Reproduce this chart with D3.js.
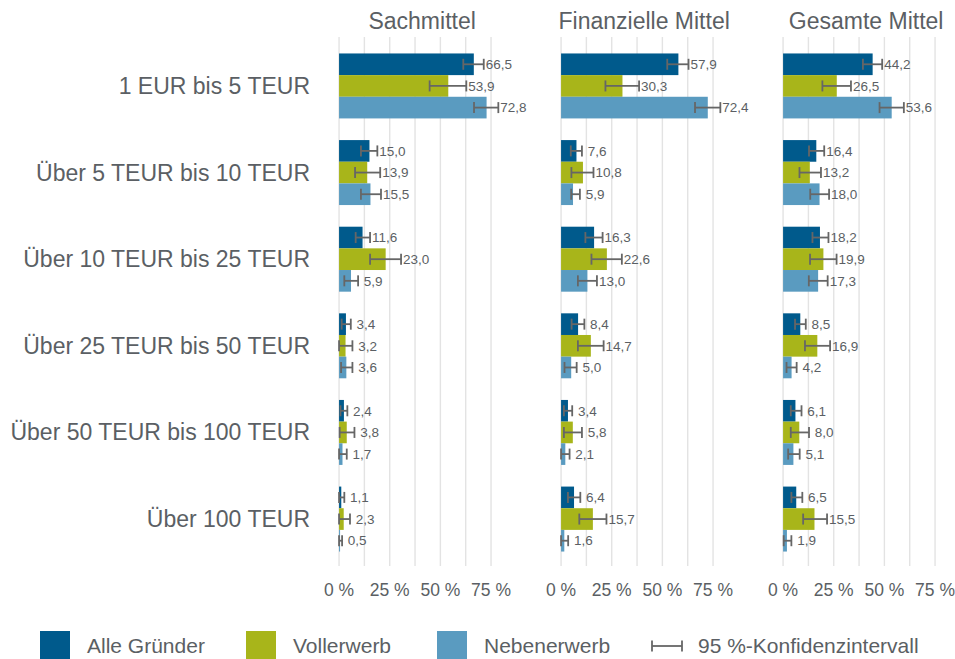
<!DOCTYPE html>
<html>
<head>
<meta charset="utf-8">
<script src="https://cdn.jsdelivr.net/npm/d3@7"></script>
<style>
  html, body { margin: 0; padding: 0; background: #fff; }
  svg { display: block; font-family: "Liberation Sans", Arial, sans-serif; }
</style>
</head>
<body>
<div id="chart"></div>
<script>
(function () {
"use strict";

// Categories, facets, series
var categories = [
  "1 EUR bis 5 TEUR",
  "Über 5 TEUR bis 10 TEUR",
  "Über 10 TEUR bis 25 TEUR",
  "Über 25 TEUR bis 50 TEUR",
  "Über 50 TEUR bis 100 TEUR",
  "Über 100 TEUR"
];
var facets = ["Sachmittel", "Finanzielle Mittel", "Gesamte Mittel"];
var series = ["Alle Gründer", "Vollerwerb", "Nebenerwerb"];
var xTicks = [0, 25, 50, 75];
var xGrid = [0, 12.5, 25, 37.5, 50, 62.5, 75];

// Shares (%) per facet and series, in category order
var sachAlle  = [66.5, 15.0, 11.6, 3.4, 2.4, 1.1];
var sachVoll  = [53.9, 13.9, 23.0, 3.2, 3.8, 2.3];
var sachNeben = [72.8, 15.5,  5.9, 3.6, 1.7, 0.5];
var finAlle   = [57.9,  7.6, 16.3,  8.4, 3.4,  6.4];
var finVoll   = [30.3, 10.8, 22.6, 14.7, 5.8, 15.7];
var finNeben  = [72.4,  5.9, 13.0,  5.0, 2.1,  1.6];
var gesAlle   = [44.2, 16.4, 18.2,  8.5, 6.1,  6.5];
var gesVoll   = [26.5, 13.2, 19.9, 16.9, 8.0, 15.5];
var gesNeben  = [53.6, 18.0, 17.3,  4.2, 5.1,  1.9];

// 95 % confidence intervals (lower / upper)
var sachAlleLo  = [61.3, 10.8,  8.2, 1.3, 0.7, 0.0];
var sachAlleHi  = [71.4, 18.9, 15.3, 5.8, 4.1, 2.6];
var sachVollLo  = [44.7,  7.9, 15.3, 0.0, 0.3, 0.0];
var sachVollHi  = [62.8, 20.3, 30.6, 6.6, 7.6, 5.4];
var sachNebenLo = [66.6, 10.8,  2.6, 1.0, 0.0, 0.0];
var sachNebenHi = [78.6, 20.7,  9.4, 6.6, 3.8, 1.5];
var finAlleLo   = [52.4,  4.8, 12.0,  5.2,  1.4,  3.4];
var finAlleHi   = [62.9, 10.3, 20.5, 11.5,  5.5,  9.5];
var finVollLo   = [21.9,  5.1, 15.0,  8.3,  1.4,  9.0];
var finVollHi   = [38.5, 16.0, 30.0, 21.0, 10.3, 22.4];
var finNebenLo  = [66.1,  5.0,  8.3,  1.7,  0.0,  0.0];
var finNebenHi  = [78.6,  9.3, 17.7,  7.7,  4.2,  3.5];
var gesAlleLo   = [39.4, 12.8, 14.5,  5.9,  3.8,  4.1];
var gesAlleHi   = [48.9, 20.3, 22.4, 11.2,  9.1,  9.5];
var gesVollLo   = [19.4,  8.1, 13.3, 10.8,  3.8,  9.9];
var gesVollHi   = [33.5, 18.7, 26.4, 23.2, 12.8, 21.7];
var gesNebenLo  = [47.6, 13.4, 12.7,  1.7,  2.5,  0.3];
var gesNebenHi  = [59.6, 22.7, 22.0,  6.7,  8.2,  4.1];

var table = [
  [[sachAlle, sachAlleLo, sachAlleHi], [sachVoll, sachVollLo, sachVollHi], [sachNeben, sachNebenLo, sachNebenHi]],
  [[finAlle, finAlleLo, finAlleHi],    [finVoll, finVollLo, finVollHi],    [finNeben, finNebenLo, finNebenHi]],
  [[gesAlle, gesAlleLo, gesAlleHi],    [gesVoll, gesVollLo, gesVollHi],    [gesNeben, gesNebenLo, gesNebenHi]]
];

var rows = [];
facets.forEach(function(f, fi) {
  series.forEach(function(s, si) {
    categories.forEach(function(c, ci) {
      rows.push({
        facet: f, series: s, cat: c,
        v:  table[fi][si][0][ci],
        lo: table[fi][si][1][ci],
        hi: table[fi][si][2][ci]
      });
    });
  });
});

var width = 955, height = 659;
var textColor = "#5b5f64";
var color = d3.scaleOrdinal()
  .domain(series)
  .range(["#005a8c", "#a8b51a", "#5a9bc0"]);

var svg = d3.select("#chart").append("svg")
  .attr("width", width)
  .attr("height", height)
  .attr("viewBox", "0 0 " + width + " " + height);

// Layout scales
var facetScale = d3.scaleBand()
  .domain(facets)
  .range([335, 953.3])
  .paddingInner(0.215)
  .paddingOuter(0);

var xScale = d3.scaleLinear()
  .domain([-2, 84])
  .range([0, facetScale.bandwidth()]);

var panelTop = 37, panelBottom = 568;

var yScale = d3.scaleBand()
  .domain(categories)
  .range([panelTop, panelBottom])
  .paddingInner(0.25)
  .paddingOuter(0.19);

var ySub = d3.scaleBand()
  .domain(series)
  .range([0, yScale.bandwidth()])
  .padding(0);

function fmt(v) {
  var s = d3.format(".1f")(v).replace(".", ",");
  return v < 10 ? "\u00A0" + s : s;
}

// Category labels
svg.append("g")
  .selectAll("text")
  .data(categories)
  .enter()
  .append("text")
    .attr("x", 310)
    .attr("y", function(d) { return yScale(d) + yScale.bandwidth() / 2; })
    .attr("dy", "0.35em")
    .style("text-anchor", "end")
    .style("font-size", "23px")
    .style("fill", textColor)
    .text(function(d) { return d; });

facets.forEach(function(f) {
  var g = svg.append("g")
    .attr("transform", "translate(" + facetScale(f) + ",0)");

  // Grid
  g.append("g")
    .selectAll("line")
    .data(xGrid)
    .enter()
    .append("line")
      .attr("x1", function(d) { return xScale(d); })
      .attr("x2", function(d) { return xScale(d); })
      .attr("y1", panelTop)
      .attr("y2", panelBottom - 2)
      .style("stroke", "#e3e3e3")
      .style("stroke-width", 1.4);

  // Facet title
  g.append("text")
    .attr("x", facetScale.bandwidth() / 2)
    .attr("y", 29)
    .style("text-anchor", "middle")
    .style("font-size", "23px")
    .style("fill", textColor)
    .text(f);

  // Axis tick labels
  g.append("g")
    .selectAll("text")
    .data(xTicks)
    .enter()
    .append("text")
      .attr("x", function(d) { return xScale(d); })
      .attr("y", 596)
      .style("text-anchor", "middle")
      .style("font-size", "17.5px")
      .style("fill", textColor)
      .text(function(d) { return d + " %"; });

  var data = rows.filter(function(r) { return r.facet === f; });

  // Bars
  g.append("g")
    .selectAll("rect")
    .data(data)
    .enter()
    .append("rect")
      .attr("x", xScale(0))
      .attr("y", function(d) { return yScale(d.cat) + ySub(d.series); })
      .attr("width", function(d) { return xScale(d.v) - xScale(0); })
      .attr("height", ySub.bandwidth())
      .style("fill", function(d) { return color(d.series); });

  // Error bars
  var eb = g.append("g")
    .selectAll("g")
    .data(data)
    .enter()
    .append("g")
      .attr("transform", function(d) {
        return "translate(0," + (yScale(d.cat) + ySub(d.series) + ySub.bandwidth() / 2) + ")";
      })
      .style("stroke", "#666")
      .style("stroke-width", 1.8);

  eb.append("line")
    .attr("x1", function(d) { return xScale(d.lo); })
    .attr("x2", function(d) { return xScale(d.hi); });
  eb.append("line")
    .attr("x1", function(d) { return xScale(d.lo); })
    .attr("x2", function(d) { return xScale(d.lo); })
    .attr("y1", -5.5).attr("y2", 5.5);
  eb.append("line")
    .attr("x1", function(d) { return xScale(d.hi); })
    .attr("x2", function(d) { return xScale(d.hi); })
    .attr("y1", -5.5).attr("y2", 5.5);

  // Value labels
  g.append("g")
    .selectAll("text")
    .data(data)
    .enter()
    .append("text")
      .attr("x", function(d) { return xScale(d.hi) + 2; })
      .attr("y", function(d) { return yScale(d.cat) + ySub(d.series) + ySub.bandwidth() / 2; })
      .attr("dy", "0.35em")
      .style("font-size", "13.5px")
      .style("fill", textColor)
      .text(function(d) { return fmt(d.v); });
});

// Legend
var legendX = [40, 246, 437];
var legend = svg.append("g");
series.forEach(function(s, i) {
  legend.append("rect")
    .attr("x", legendX[i])
    .attr("y", 631)
    .attr("width", 30)
    .attr("height", 30)
    .style("fill", color(s));
  legend.append("text")
    .attr("x", legendX[i] + 47)
    .attr("y", 646)
    .attr("dy", "0.35em")
    .style("font-size", "21px")
    .style("fill", textColor)
    .text(s);
});

var ci = legend.append("g")
  .attr("transform", "translate(0,646)")
  .style("stroke", "#666")
  .style("stroke-width", 1.8);
ci.append("line").attr("x1", 652).attr("x2", 682);
ci.append("line").attr("x1", 652).attr("x2", 652).attr("y1", -5.5).attr("y2", 5.5);
ci.append("line").attr("x1", 682).attr("x2", 682).attr("y1", -5.5).attr("y2", 5.5);

legend.append("text")
  .attr("x", 698)
  .attr("y", 646)
  .attr("dy", "0.35em")
  .style("font-size", "21px")
  .style("fill", textColor)
  .text("95 %-Konfidenzintervall");

})();
</script>
</body>
</html>
